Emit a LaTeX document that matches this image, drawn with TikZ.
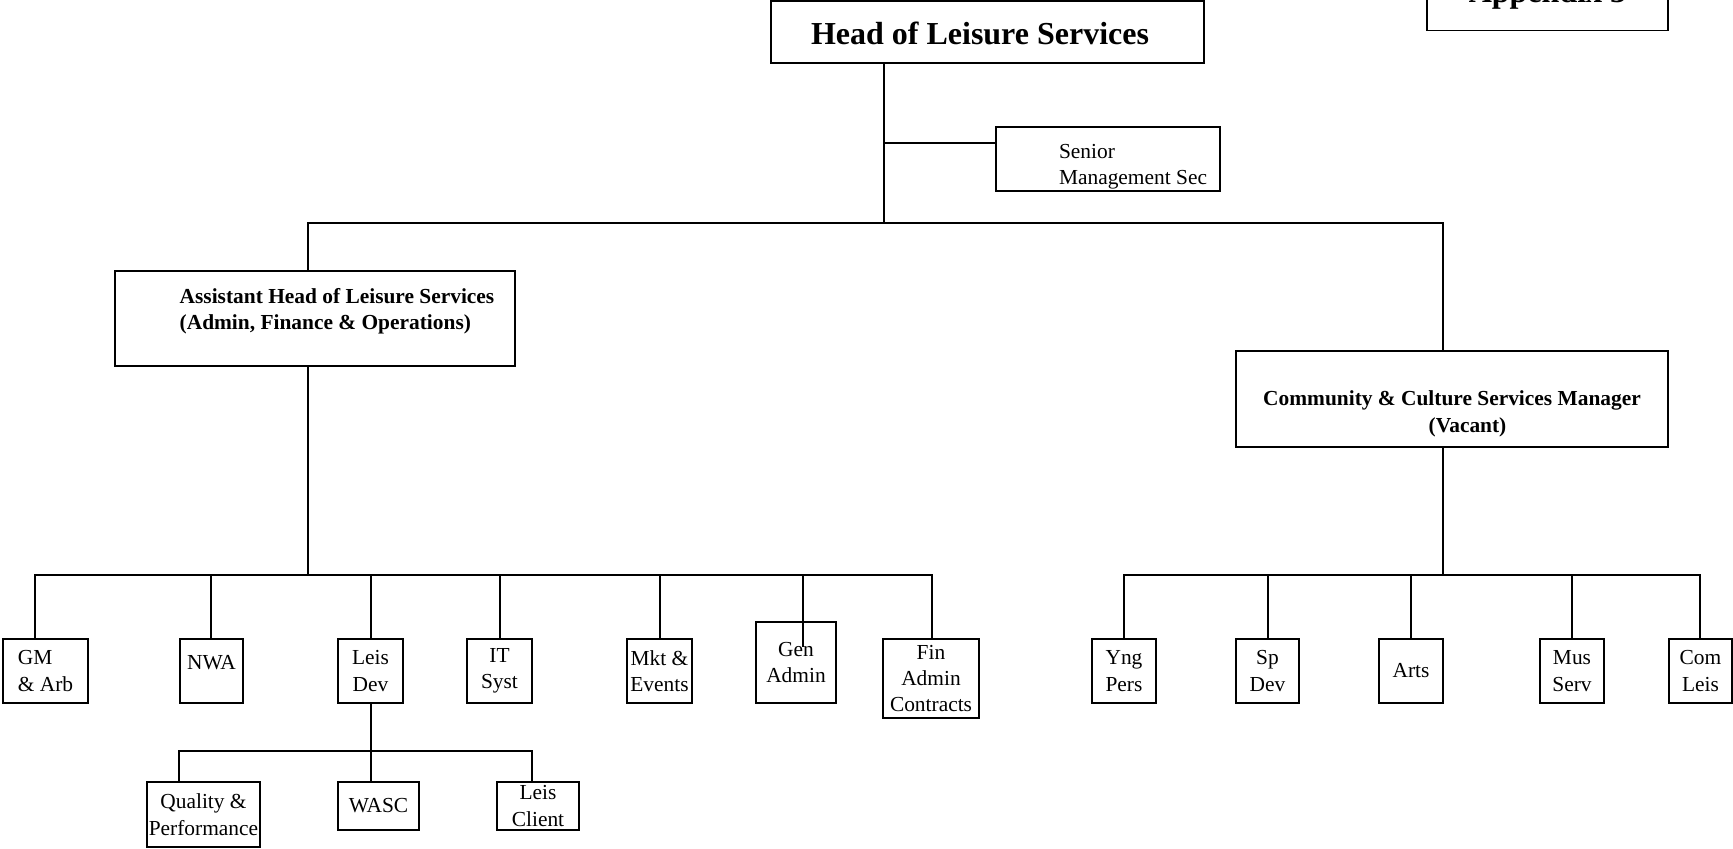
\documentclass[tikz,border=0pt]{standalone}
\usepackage{fontspec}
\setmainfont{Liberation Serif}
\begin{document}
\begin{tikzpicture}[x=0.5pt,y=-0.5pt]
\tikzstyle{txt}=[font=\fontsize{10.7}{13.2}\selectfont]
\tikzstyle{txtb}=[font=\fontsize{10.7}{13.2}\selectfont\bfseries]
\tikzstyle{title}=[font=\fontsize{16}{19}\selectfont\bfseries]
\tikzstyle{post}=[draw,line width=0.9pt,inner sep=0pt,outer sep=0pt,align=center,txt,minimum height=32pt]
\tikzstyle{link}=[line width=0.8pt,line cap=rect]
\useasboundingbox (0,0) rectangle (1733,848);
\clip (0,0) rectangle (1733,848);
% top of the chart
\node[post,minimum width=216.5pt,minimum height=31pt,label={[title,xshift=-3.75pt,yshift=-0.5pt]center:Head of Leisure Services}] (head) at (987.5,32) {};
\node[post,title,minimum width=120.5pt,minimum height=35.5pt] (appx) at (1547.5,-5) {Appendix 3};
\node[post,minimum width=112pt,label={[txt,align=left,xshift=12.5pt,yshift=-4pt]center:{Senior\\Management Sec}}] (sms) at (1108,159) {};
\node[post,minimum width=200pt,minimum height=47.5pt,label={[txtb,align=left,xshift=11pt,yshift=3.75pt]center:{Assistant Head of Leisure Services\\(Admin, Finance \& Operations)}}] (asst) at (315,318.5) {};
\node[post,minimum width=216pt,minimum height=48pt,label={[txtb,align=center,yshift=-7.5pt]center:{Community \& Culture Services Manager\\\hspace*{15.5pt}(Vacant)}}] (ccsm) at (1452,399) {};
% admin, finance and operations
\node[post,minimum width=42.5pt,align=left] (gm) at (45.5,671) {GM\\\& Arb};
\node[post,minimum width=31.5pt] (nwa) at (211.5,671) {\raisebox{4pt}[\height][\depth]{NWA}};
\node[post,minimum width=32.5pt] (leisdev) at (370.5,671) {Leis\\Dev};
\node[post,minimum width=32.5pt] (itsyst) at (499.5,671) {IT\\Syst};
\node[post,minimum width=32.5pt] (mkt) at (659.5,671) {Mkt \&\\Events};
\node[post,minimum width=40pt,minimum height=40.5pt] (genadmin) at (796,662.5) {Gen\\Admin};
\node[post,minimum width=48pt,minimum height=39.5pt] (fin) at (931,678.5) {Fin\\Admin\\Contracts};
\node[post,minimum width=56.5pt,minimum height=32.5pt] (qual) at (203.5,814.5) {Quality \&\\Performance};
\node[post,minimum width=40.5pt,minimum height=24pt] (wasc) at (378.5,806) {WASC};
\node[post,minimum width=41pt,minimum height=24pt] (leisclient) at (538,806) {Leis\\Client};
% community and culture
\node[post,minimum width=32pt] (yng) at (1124,671) {Yng\\Pers};
\node[post,minimum width=31.5pt] (spdev) at (1267.5,671) {Sp\\Dev};
\node[post,minimum width=32pt] (arts) at (1411,671) {Arts};
\node[post,minimum width=32pt] (mus) at (1572,671) {Mus\\Serv};
\node[post,minimum width=31.5pt] (com) at (1700.5,671) {Com\\Leis};
% trunk
\coordinate (sj) at (884,143);
\coordinate (tj) at (884,223);
\coordinate (aj) at (308,223);
\coordinate (cj) at (1443,223);
\draw[link] (tj |- head.south) -- (tj);
\draw[link] (sj) -- (sj -| sms.west);
\draw[link] (aj |- asst.north) -- (aj) -- (cj) -- (cj |- ccsm.north);
% assistant head team
\coordinate (ab) at (308,575);
\draw[link] (ab |- asst.south) -- (ab);
\foreach \n/\x in {gm/35,nwa/211,leisdev/371,itsyst/500,mkt/660,fin/932}
  {\coordinate (d-\n) at (\x,575);
   \draw[link] (d-\n) -- (d-\n |- \n.north);}
\coordinate (d-genadmin) at (803,575);
\coordinate (ga) at (803,646);
\draw[link] (d-genadmin) -- (ga);
\draw[link] (d-gm) -- (d-fin);
% leisure development
\coordinate (lj) at (371,751);
\draw[link] (lj |- leisdev.south) -- (lj);
\foreach \n/\x in {qual/179,wasc/371,leisclient/532}
  {\coordinate (d-\n) at (\x,751);
   \draw[link] (d-\n) -- (d-\n |- \n.north);}
\draw[link] (d-qual) -- (d-leisclient);
% community and culture team
\coordinate (cb) at (1443,575);
\draw[link] (cb |- ccsm.south) -- (cb);
\foreach \n/\x in {yng/1124,spdev/1268,arts/1411,mus/1572,com/1700}
  {\coordinate (d-\n) at (\x,575);
   \draw[link] (d-\n) -- (d-\n |- \n.north);}
\draw[link] (d-yng) -- (d-com);
\end{tikzpicture}
\end{document}
